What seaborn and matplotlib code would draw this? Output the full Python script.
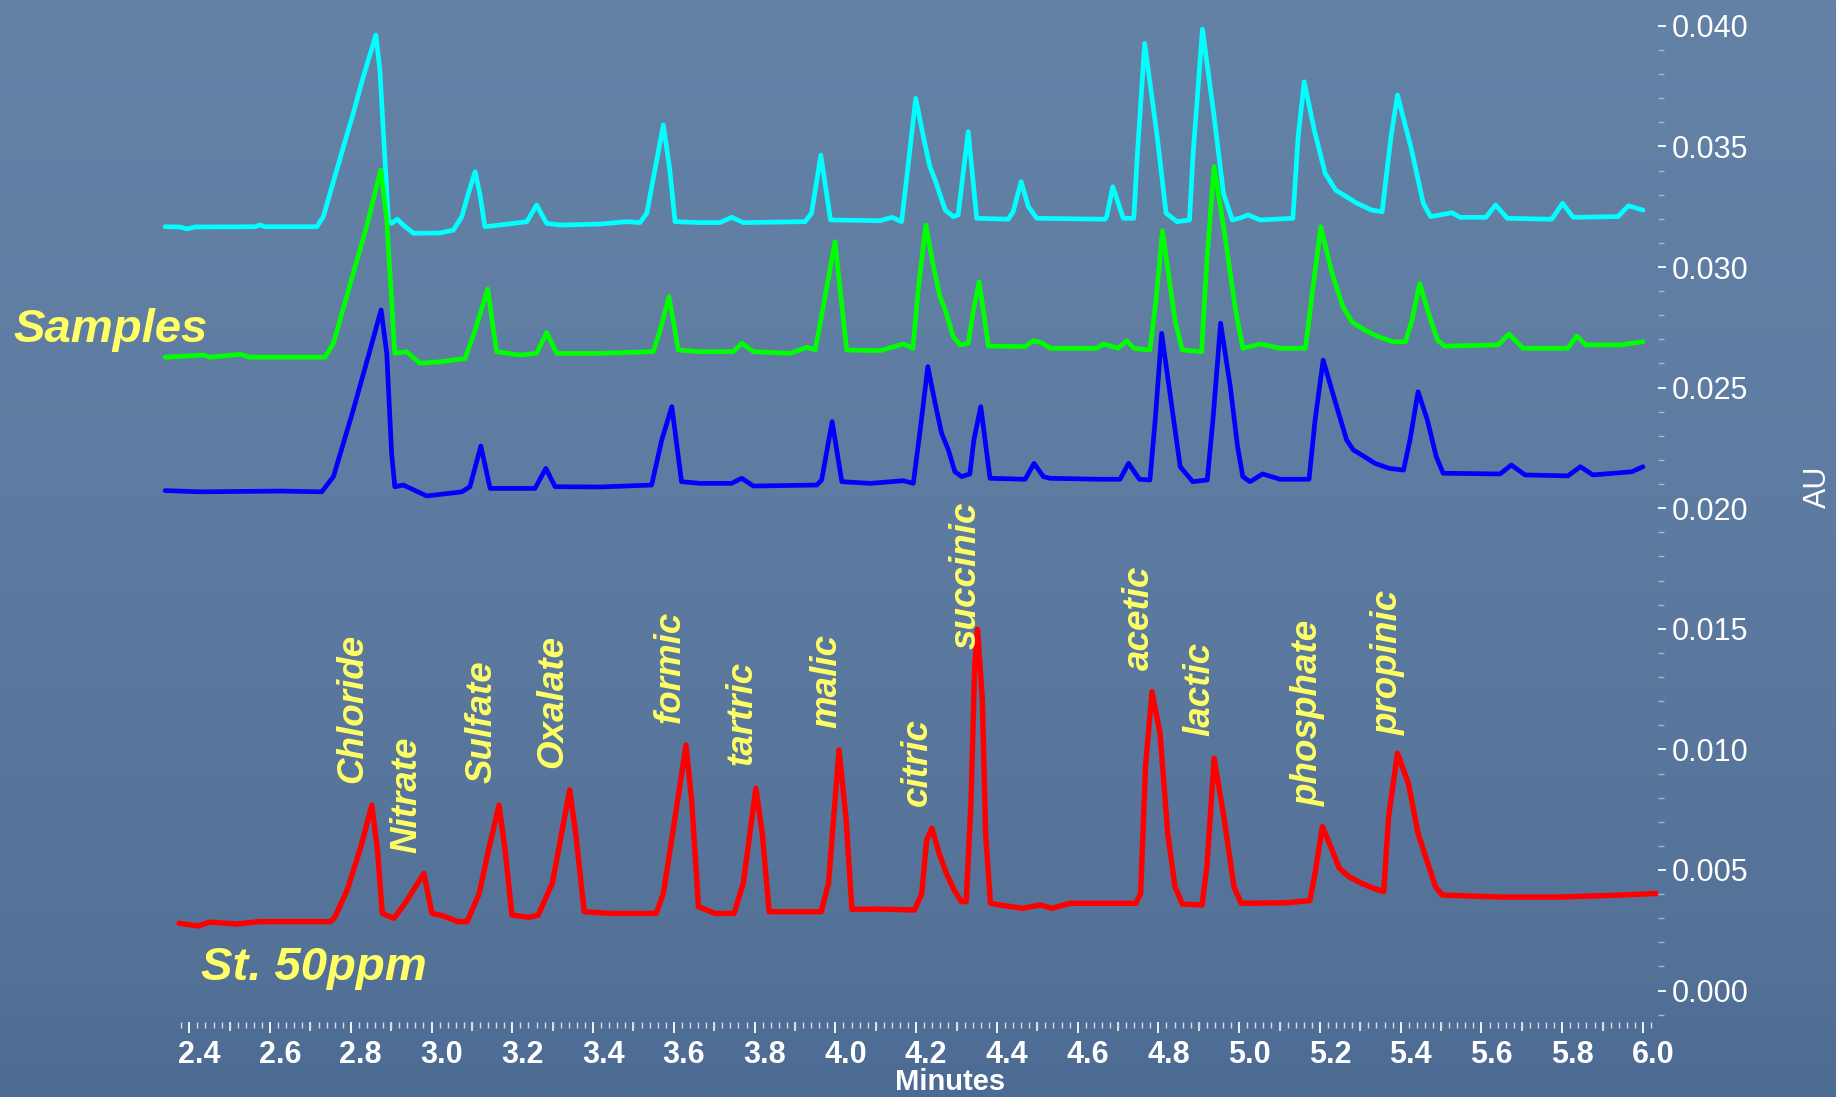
import matplotlib
matplotlib.use("Agg")
import matplotlib.pyplot as plt
from matplotlib.transforms import ScaledTranslation
from matplotlib.ticker import FixedLocator, FixedFormatter
import numpy as np
import pandas as pd
import seaborn as sns

# ---- chromatogram traces: retention time (min) and absorbance (AU) ----
cyan_time = [2.340, 2.377, 2.394, 2.414, 2.563, 2.575, 2.587, 2.716, 2.732, 2.777, 2.806, 2.831, 2.862,
             2.872, 2.885, 2.893, 2.901, 2.915, 2.930, 2.955, 3.021, 3.054, 3.075, 3.090, 3.108, 3.120,
             3.132, 3.169, 3.236, 3.260, 3.285, 3.318, 3.417, 3.483, 3.516, 3.533, 3.553, 3.574, 3.590,
             3.603, 3.665, 3.714, 3.743, 3.772, 3.925, 3.941, 3.964, 3.988, 4.111, 4.140, 4.164, 4.177,
             4.199, 4.218, 4.234, 4.247, 4.272, 4.292, 4.304, 4.329, 4.350, 4.428, 4.440, 4.460, 4.478,
             4.499, 4.668, 4.672, 4.687, 4.713, 4.739, 4.748, 4.766, 4.797, 4.819, 4.846, 4.877, 4.886,
             4.909, 4.938, 4.961, 4.983, 5.002, 5.022, 5.052, 5.133, 5.146, 5.161, 5.186, 5.213, 5.239,
             5.266, 5.292, 5.328, 5.354, 5.376, 5.392, 5.425, 5.456, 5.474, 5.527, 5.547, 5.611, 5.635,
             5.664, 5.774, 5.801, 5.827, 5.938, 5.964, 6.000]
cyan_au = [0.03167, 0.03166, 0.03158, 0.03166, 0.03167, 0.03174, 0.03167, 0.03167, 0.03209, 0.03471,
           0.03637, 0.03789, 0.03962, 0.03817, 0.03430, 0.03195, 0.03181, 0.03198, 0.03174, 0.03140,
           0.03141, 0.03153, 0.03209, 0.03299, 0.03395, 0.03299, 0.03167, 0.03174, 0.03188, 0.03257,
           0.03181, 0.03174, 0.03178, 0.03188, 0.03184, 0.03223, 0.03402, 0.03589, 0.03402, 0.03188,
           0.03184, 0.03184, 0.03206, 0.03184, 0.03188, 0.03223, 0.03464, 0.03195, 0.03192, 0.03206,
           0.03188, 0.03374, 0.03699, 0.03540, 0.03416, 0.03361, 0.03236, 0.03209, 0.03216, 0.03561,
           0.03202, 0.03198, 0.03228, 0.03354, 0.03250, 0.03202, 0.03198, 0.03209, 0.03333, 0.03202,
           0.03202, 0.03471, 0.03927, 0.03540, 0.03223, 0.03188, 0.03195, 0.03471, 0.03986, 0.03623,
           0.03306, 0.03195, 0.03203, 0.03216, 0.03195, 0.03202, 0.03540, 0.03768, 0.03568, 0.03388,
           0.03319, 0.03291, 0.03264, 0.03236, 0.03229, 0.03540, 0.03713, 0.03499, 0.03264, 0.03209,
           0.03225, 0.03206, 0.03206, 0.03257, 0.03202, 0.03198, 0.03264, 0.03206, 0.03209, 0.03254,
           0.03236]

green_time = [2.340, 2.435, 2.451, 2.526, 2.550, 2.736, 2.757, 2.806, 2.839, 2.874, 2.889, 2.909, 2.938,
              2.971, 3.021, 3.083, 3.108, 3.139, 3.161, 3.219, 3.260, 3.285, 3.310, 3.417, 3.549, 3.566,
              3.588, 3.611, 3.665, 3.747, 3.768, 3.797, 3.888, 3.929, 3.950, 3.970, 3.999, 4.028, 4.111,
              4.168, 4.192, 4.205, 4.224, 4.243, 4.259, 4.272, 4.292, 4.309, 4.329, 4.342, 4.356, 4.379,
              4.470, 4.490, 4.511, 4.532, 4.647, 4.664, 4.700, 4.722, 4.739, 4.779, 4.794, 4.810, 4.841,
              4.859, 4.907, 4.920, 4.938, 4.965, 4.991, 5.009, 5.053, 5.101, 5.164, 5.182, 5.202, 5.230,
              5.257, 5.279, 5.310, 5.345, 5.381, 5.412, 5.428, 5.447, 5.469, 5.491, 5.509, 5.641, 5.668,
              5.703, 5.814, 5.836, 5.858, 5.943, 6.000]
green_au = [0.02626, 0.02635, 0.02626, 0.02638, 0.02626, 0.02626, 0.02684, 0.02974, 0.03167, 0.03402,
            0.03195, 0.02642, 0.02649, 0.02601, 0.02607, 0.02621, 0.02739, 0.02908, 0.02649, 0.02635,
            0.02642, 0.02728, 0.02642, 0.02642, 0.02649, 0.02739, 0.02877, 0.02656, 0.02649, 0.02649,
            0.02684, 0.02649, 0.02642, 0.02667, 0.02656, 0.02835, 0.03105, 0.02656, 0.02653, 0.02681,
            0.02663, 0.02905, 0.03174, 0.03001, 0.02877, 0.02822, 0.02711, 0.02677, 0.02684, 0.02822,
            0.02939, 0.02672, 0.02670, 0.02694, 0.02686, 0.02663, 0.02663, 0.02681, 0.02663, 0.02694,
            0.02663, 0.02656, 0.02863, 0.03151, 0.02780, 0.02656, 0.02649, 0.03029, 0.03416, 0.03126,
            0.02822, 0.02663, 0.02681, 0.02663, 0.02663, 0.02905, 0.03167, 0.02974, 0.02835, 0.02773,
            0.02739, 0.02711, 0.02690, 0.02690, 0.02780, 0.02932, 0.02808, 0.02697, 0.02672, 0.02677,
            0.02722, 0.02663, 0.02663, 0.02714, 0.02677, 0.02677, 0.02690]

blue_time = [2.340, 2.426, 2.625, 2.728, 2.757, 2.806, 2.843, 2.875, 2.889, 2.901, 2.909, 2.930, 2.988,
             3.046, 3.075, 3.095, 3.122, 3.145, 3.219, 3.256, 3.283, 3.306, 3.417, 3.545, 3.570, 3.595,
             3.619, 3.665, 3.743, 3.768, 3.797, 3.954, 3.966, 3.992, 4.016, 4.086, 4.168, 4.193, 4.210,
             4.229, 4.247, 4.263, 4.280, 4.296, 4.313, 4.333, 4.343, 4.360, 4.383, 4.470, 4.492, 4.515,
             4.532, 4.655, 4.705, 4.726, 4.753, 4.779, 4.792, 4.808, 4.832, 4.854, 4.885, 4.921, 4.935,
             4.954, 4.978, 4.996, 5.009, 5.027, 5.058, 5.101, 5.173, 5.188, 5.208, 5.239, 5.266, 5.283,
             5.310, 5.336, 5.372, 5.407, 5.423, 5.443, 5.466, 5.488, 5.505, 5.646, 5.674, 5.708, 5.814,
             5.845, 5.876, 5.972, 6.000]
blue_au = [0.02073, 0.02068, 0.02071, 0.02068, 0.02131, 0.02407, 0.02628, 0.02822, 0.02642, 0.02228,
           0.02089, 0.02096, 0.02051, 0.02062, 0.02068, 0.02089, 0.02258, 0.02082, 0.02082, 0.02082,
           0.02165, 0.02089, 0.02088, 0.02096, 0.02283, 0.02421, 0.02110, 0.02103, 0.02103, 0.02124,
           0.02092, 0.02096, 0.02117, 0.02359, 0.02110, 0.02103, 0.02114, 0.02103, 0.02324, 0.02587,
           0.02435, 0.02311, 0.02241, 0.02151, 0.02131, 0.02142, 0.02283, 0.02421, 0.02124, 0.02120,
           0.02186, 0.02131, 0.02124, 0.02120, 0.02120, 0.02186, 0.02120, 0.02117, 0.02366, 0.02725,
           0.02435, 0.02172, 0.02110, 0.02117, 0.02366, 0.02767, 0.02504, 0.02255, 0.02131, 0.02110,
           0.02142, 0.02120, 0.02120, 0.02366, 0.02614, 0.02435, 0.02283, 0.02241, 0.02214, 0.02186,
           0.02165, 0.02158, 0.02283, 0.02483, 0.02366, 0.02214, 0.02145, 0.02142, 0.02179, 0.02138,
           0.02134, 0.02172, 0.02138, 0.02151, 0.02172]

standard_time = [2.375, 2.422, 2.451, 2.516, 2.575, 2.750, 2.761, 2.791, 2.825, 2.852, 2.866, 2.878,
                 2.907, 2.937, 2.981, 3.001, 3.030, 3.065, 3.088, 3.118, 3.141, 3.167, 3.182, 3.199,
                 3.241, 3.264, 3.299, 3.322, 3.342, 3.357, 3.378, 3.442, 3.556, 3.574, 3.597, 3.630,
                 3.644, 3.661, 3.702, 3.749, 3.772, 3.803, 3.819, 3.836, 3.965, 3.983, 4.009, 4.026,
                 4.041, 4.111, 4.196, 4.214, 4.226, 4.239, 4.257, 4.275, 4.294, 4.312, 4.324, 4.336,
                 4.345, 4.352, 4.364, 4.372, 4.384, 4.407, 4.464, 4.507, 4.536, 4.581, 4.744, 4.756,
                 4.768, 4.784, 4.804, 4.823, 4.841, 4.859, 4.908, 4.920, 4.938, 4.962, 4.987, 5.005,
                 5.115, 5.175, 5.188, 5.206, 5.230, 5.248, 5.272, 5.303, 5.333, 5.358, 5.370, 5.392,
                 5.419, 5.443, 5.467, 5.486, 5.503, 5.646, 5.795, 5.943, 6.035]
standard_au = [0.00279, 0.00268, 0.00284, 0.00276, 0.00286, 0.00286, 0.00306, 0.00417, 0.00597, 0.00769,
               0.00583, 0.00320, 0.00300, 0.00369, 0.00486, 0.00320, 0.00309, 0.00286, 0.00286, 0.00403,
               0.00583, 0.00769, 0.00583, 0.00313, 0.00304, 0.00313, 0.00445, 0.00652, 0.00832, 0.00652,
               0.00327, 0.00320, 0.00320, 0.00403, 0.00652, 0.01018, 0.00790, 0.00348, 0.00320, 0.00320,
               0.00445, 0.00839, 0.00652, 0.00327, 0.00327, 0.00445, 0.00998, 0.00721, 0.00337, 0.00338,
               0.00334, 0.00403, 0.00624, 0.00673, 0.00569, 0.00486, 0.00417, 0.00369, 0.00369, 0.00790,
               0.01343, 0.01498, 0.01205, 0.00652, 0.00362, 0.00355, 0.00341, 0.00355, 0.00341, 0.00362,
               0.00362, 0.00403, 0.00928, 0.01239, 0.01067, 0.00652, 0.00431, 0.00359, 0.00355, 0.00514,
               0.00963, 0.00721, 0.00431, 0.00362, 0.00364, 0.00373, 0.00486, 0.00680, 0.00583, 0.00507,
               0.00472, 0.00445, 0.00424, 0.00410, 0.00721, 0.00984, 0.00859, 0.00652, 0.00528, 0.00431,
               0.00396, 0.00388, 0.00388, 0.00396, 0.00403]

# ---- peak identification labels (anchored at the bottom of each label) ----
peak_names = ["Chloride", "Nitrate", "Sulfate", "Oxalate", "formic", "tartric", "malic",
              "citric", "succinic", "acetic", "lactic", "phosphate", "propinic"]
peak_label_time = [2.804, 2.939, 3.126, 3.301, 3.592, 3.769, 3.979,
                   4.202, 4.323, 4.752, 4.903, 5.172, 5.370]
peak_label_au = [0.00862, 0.00569, 0.00862, 0.00922, 0.01108, 0.00935, 0.01087,
                 0.00765, 0.01415, 0.01329, 0.01056, 0.00765, 0.01060]

# ---- axis ticks ----
x_tick_labels = ["2.4", "2.6", "2.8", "3.0", "3.2", "3.4", "3.6", "3.8", "4.0",
                 "4.2", "4.4", "4.6", "4.8", "5.0", "5.2", "5.4", "5.6", "5.8", "6.0"]
y_tick_labels = ["0.000", "0.005", "0.010", "0.015", "0.020",
                 "0.025", "0.030", "0.035", "0.040"]

YELLOW = "#FFFF66"
W, H = 1836, 1097

sns.set_theme(style="ticks")
plt.rcParams["font.family"] = ["Liberation Sans", "DejaVu Sans"]

fig = plt.figure(figsize=(W / 100, H / 100), dpi=100)

# slide background: soft vertical blue gradient
bg = fig.add_axes([0, 0, 1, 1], zorder=0)
ys = np.linspace(0, 1, 400)
stops = [0.0, 0.45, 0.88, 1.0]
cols = np.array([[100, 130, 166], [94, 124, 161], [84, 114, 152], [76, 107, 147]]) / 255.0
grad = np.stack([np.interp(ys, stops, cols[:, k]) for k in range(3)], axis=-1)
bg.imshow(grad[:, None, :], aspect="auto", extent=[0, 1, 0, 1], origin="upper")
bg.set_axis_off()

ax = fig.add_axes([150 / W, 75 / H, 1508 / W, 1022 / H], zorder=1)
ax.set_facecolor("none")

traces = [
    (cyan_time, cyan_au, "#00FFFF", 3.4),
    (green_time, green_au, "#00FF00", 3.4),
    (blue_time, blue_au, "#0000FF", 3.4),
    (standard_time, standard_au, "#FF0000", 3.9),
]
for t, a, c, lw in traces:
    df = pd.DataFrame({"time": t, "au": a})
    sns.lineplot(data=df, x="time", y="au", sort=False, estimator=None, color=c,
                 linewidth=lw, ax=ax, solid_joinstyle="round", solid_capstyle="round")

ax.set_xlim(2.3027, 6.0372)
ax.set_ylim(-0.001302, 0.04107)
ax.set_xlabel("")
ax.set_ylabel("")
for s in ax.spines.values():
    s.set_visible(False)

# x axis: labelled ticks every 0.2 min, fine ticks every 0.02 min
x_tick_values = [float(v) for v in x_tick_labels]
ax.xaxis.set_major_locator(FixedLocator(x_tick_values))
ax.xaxis.set_major_formatter(FixedFormatter(x_tick_labels))
ax.xaxis.set_minor_locator(FixedLocator([round(2.38 + 0.02 * i, 2) for i in range(183)]))
ax.tick_params(axis="x", which="major", direction="out", length=8, width=1.3, color="white",
               labelsize=22, labelcolor="white", pad=5)
ax.tick_params(axis="x", which="minor", direction="out", length=4.5, width=1.0, color="#d5dce6")
shift = ScaledTranslation(0.10, 0, fig.dpi_scale_trans)
for lab in ax.get_xticklabels():
    lab.set_fontweight("bold")
    lab.set_transform(lab.get_transform() + shift)

sec = ax.secondary_xaxis("bottom")
sec.set_xticks([v + 0.1 for v in x_tick_values[:-1]])
sec.tick_params(axis="x", length=6.5, width=1.1, color="white", labelbottom=False)
sec.spines["bottom"].set_visible(False)

# y axis on the right
y_tick_values = [float(v) for v in y_tick_labels]
ax.yaxis.tick_right()
ax.yaxis.set_major_locator(FixedLocator(y_tick_values))
ax.yaxis.set_major_formatter(FixedFormatter(y_tick_labels))
ax.yaxis.set_minor_locator(FixedLocator([round(-0.001 + 0.001 * i, 3) for i in range(42)]))
ax.tick_params(axis="y", which="major", direction="out", length=6, width=1.3, color="white",
               labelsize=22, labelcolor="white", pad=4, right=True, left=False,
               labelright=True, labelleft=False)
ax.tick_params(axis="y", which="minor", direction="out", length=4, width=1.0, color="#aab4c4",
               right=True, left=False)

# peak names
for name, t, a in zip(peak_names, peak_label_time, peak_label_au):
    ax.text(t, a, name, rotation=90, ha="center", va="bottom", fontsize=26.5,
            fontweight="bold", fontstyle="italic", color=YELLOW)

fig.text(13 / W, 1 - 342 / H, "Samples", color=YELLOW, fontsize=34, fontweight="bold",
         fontstyle="italic", ha="left", va="baseline")
fig.text(201 / W, 1 - 980 / H, "St. 50ppm", color=YELLOW, fontsize=34, fontweight="bold",
         fontstyle="italic", ha="left", va="baseline")
fig.text(950 / W, 7 / H, "Minutes", color="white", fontsize=21, fontweight="bold",
         ha="center", va="baseline")
fig.text(1818 / W, 1 - 487 / H, "AU", color="white", fontsize=22, rotation=90,
         ha="center", va="center")

fig.savefig("out.png", dpi=100)
